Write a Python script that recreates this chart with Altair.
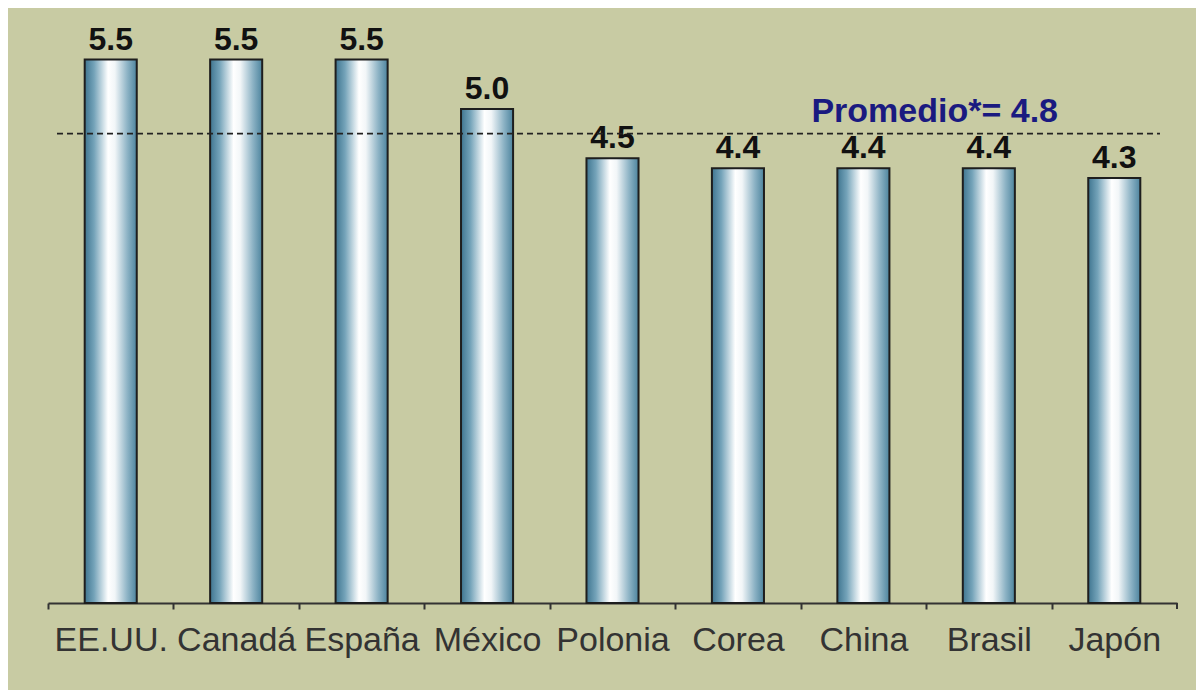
import altair as alt
import pandas as pd

countries = ["EE.UU.", "Canadá", "España", "México", "Polonia", "Corea", "China", "Brasil", "Japón"]
values = [5.5, 5.5, 5.5, 5.0, 4.5, 4.4, 4.4, 4.4, 4.3]
labels = ["5.5", "5.5", "5.5", "5.0", "4.5", "4.4", "4.4", "4.4", "4.3"]
avg_value = 4.75
avg_label = "Promedio*= 4.8"
avg_anchor = "China"

df = pd.DataFrame({"country": countries, "value": values, "label": labels})
avg_df = pd.DataFrame({"country": [avg_anchor], "avg": [avg_value], "label": [avg_label]})

FONT = "Liberation Sans"
W, H = 1129, 583
STEP = W / len(countries)

x_enc = alt.X(
    "country:N",
    sort=countries,
    title=None,
    scale=alt.Scale(paddingInner=0.585, paddingOuter=0.2925),
    axis=alt.Axis(
        labelAngle=0,
        labelFont=FONT,
        labelFontSize=34,
        labelColor="#333333",
        labelPadding=14,
        labelOffset=STEP / 2,
        domainColor="#333333",
        domainWidth=2,
        tickColor="#333333",
        tickWidth=2,
        tickSize=6,
        tickOffset=-STEP / 2,
        grid=False,
    ),
)
y_scale = alt.Scale(domain=[0, 5.9])

gradient = alt.Gradient(
    gradient="linear",
    x1=0, x2=1, y1=0, y2=0,
    stops=[
        alt.GradientStop(color="#3f7590", offset=0.0),
        alt.GradientStop(color="#74a3b9", offset=0.18),
        alt.GradientStop(color="#ffffff", offset=0.45),
        alt.GradientStop(color="#f2f6f8", offset=0.58),
        alt.GradientStop(color="#8db3c5", offset=0.82),
        alt.GradientStop(color="#4d849e", offset=1.0),
    ],
)

base = alt.Chart(df)

bars = base.mark_bar(color=gradient, stroke="#1e1e1e", strokeWidth=2).encode(
    x=x_enc,
    y=alt.Y("value:Q", scale=y_scale, axis=None),
)

texts = base.mark_text(
    font=FONT, fontSize=32, fontWeight="bold", color="#111111",
    baseline="alphabetic", dy=-10,
).encode(
    x=alt.X("country:N", sort=countries),
    y=alt.Y("value:Q", scale=y_scale),
    text="label:N",
)

rule = alt.Chart(avg_df).mark_rule(
    color="#222222", strokeDash=[6, 4], strokeWidth=1.8
).encode(
    y=alt.Y("avg:Q", scale=y_scale),
    x=alt.value(9),
    x2=alt.value(1112),
)

# closing tick at the right end of the category axis
end_tick = alt.Chart(avg_df).mark_rule(color="#333333", strokeWidth=2).encode(
    x=alt.value(W),
    y=alt.value(H),
    y2=alt.value(H + 6),
)

avg_text = alt.Chart(avg_df).mark_text(
    font=FONT, fontSize=34, fontWeight="bold", color="#1a1a80",
    align="left", baseline="alphabetic", dx=-52, dy=-12,
).encode(
    x=alt.X("country:N", sort=countries),
    y=alt.Y("avg:Q", scale=y_scale),
    text="label:N",
)

chart = alt.layer(bars, texts, rule, end_tick, avg_text).properties(
    width=W,
    height=H,
    autosize=alt.AutoSizeParams(type="none"),
    padding={"left": 40, "top": 12, "right": 19, "bottom": 87},
    background="#c8cba3",
).configure_view(stroke=None)

chart.save("out.html", embed_options={"renderer": "svg", "actions": False})
